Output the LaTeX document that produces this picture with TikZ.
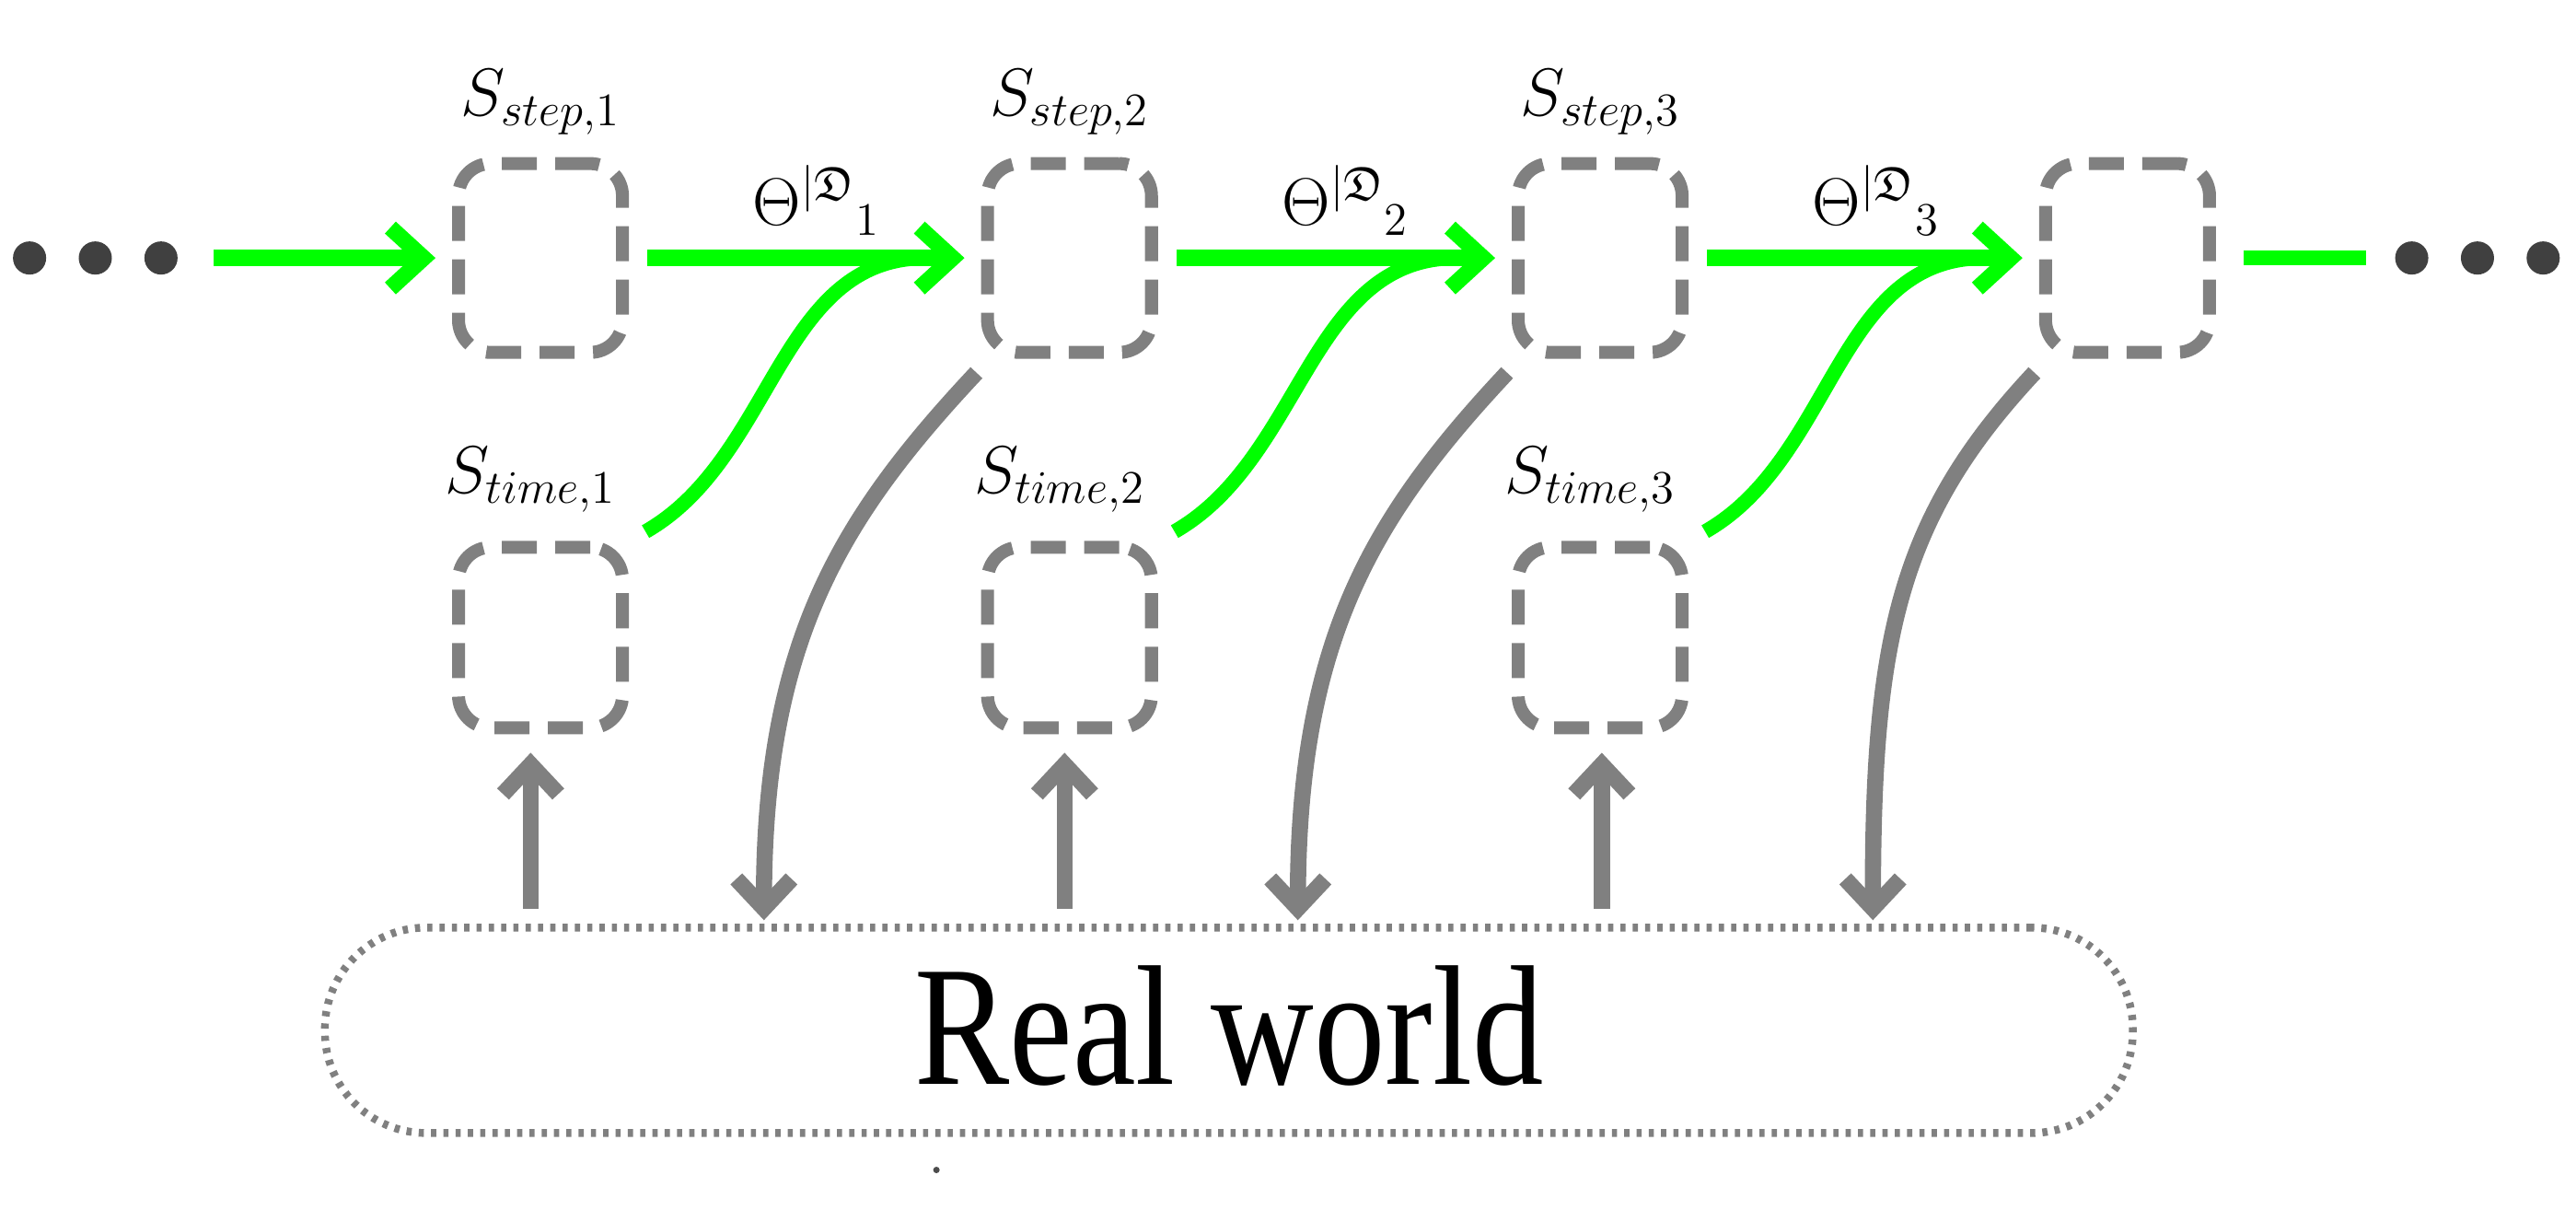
\documentclass[tikz,border=0pt]{standalone}
\usepackage{amssymb}
\usepackage{fontspec}
\newfontfamily\rwfont{Liberation Serif}
\usetikzlibrary{arrows.meta}
\definecolor{grn}{RGB}{0,255,0}
\definecolor{gry}{RGB}{128,128,128}
\begin{document}
\begin{tikzpicture}[x=0.017845cm,y=-0.017845cm,
  box/.style={draw=gry,line width=4pt,rounded corners=0.35cm,dash pattern=on 0.38cm off 0.2cm,minimum width=1.78cm,minimum height=2.05cm,inner sep=0},
  tbox/.style={box,minimum height=1.96cm},
  garr/.style={draw=grn,line width=5pt,-{Straight Barb[length=0.36cm,width=0.66cm,line width=5pt]}},
  gline/.style={draw=grn,line width=4.5pt},
  yarr/.style={draw=gry,line width=5pt,-{Straight Barb[length=0.32cm,width=0.6cm,line width=5pt]}},
  lab/.style={font=\fontsize{22}{24}\selectfont},
  th/.style={font=\fontsize{21}{23}\selectfont},
  dot/.style={circle,fill=black!75,minimum size=0.36cm,inner sep=0}]
\useasboundingbox (0,0) rectangle (1568,736);
% dots
\node[dot] (l1) at (18,157) {};\node[dot] (l2) at (58,157) {};\node[dot] (l3) at (98,157) {};
\node[dot] (r1) at (1468,157) {};\node[dot] (r2) at (1508,157) {};\node[dot] (r3) at (1548,157) {};
% boxes
\node[box] (s1) at (329,157) {};
\node[box] (s2) at (651,157) {};
\node[box] (s3) at (974,157) {};
\node[box] (s4) at (1295,157) {};
\node[tbox] (t1) at (329,388) {};
\node[tbox] (t2) at (651,388) {};
\node[tbox] (t3) at (974,388) {};
% labels
\node[lab] (ls1) at (329,62) {$S_{step,1}$};
\node[lab] (ls2) at (651,62) {$S_{step,2}$};
\node[lab] (ls3) at (974,62) {$S_{step,3}$};
\node[lab] (lt1) at (323,292) {$S_{time,1}$};
\node[lab] (lt2) at (645,292) {$S_{time,2}$};
\node[lab] (lt3) at (968,292) {$S_{time,3}$};
\node[th] (th1) at (497,122) {$\Theta^{|\mathfrak{D}}{}_{1}$};
\node[th] (th2) at (819,122) {$\Theta^{|\mathfrak{D}}{}_{2}$};
\node[th] (th3) at (1142,122) {$\Theta^{|\mathfrak{D}}{}_{3}$};
% real world
\node[draw=gry,line width=2.4pt,dash pattern=on 1.6pt off 2.2pt,rounded corners=1.1cm,minimum width=19.63cm,minimum height=2.23cm,inner sep=0] (rw) at (748,627) {};
\node[font=\rwfont\fontsize{44}{46}\selectfont,yscale=1.2] (rwt) at (748,624) {Real world};
\node[circle,fill=black!70,minimum size=2pt,inner sep=0] (sp) at (570,712) {};
% green chain
\coordinate (g0) at (130,157);
\coordinate (g9) at (1440,157);
\draw[garr] (g0) -- ([xshift=-0.18cm]s1.west);
\draw[garr] ([xshift=0.2cm]s1.east) -- ([xshift=-0.18cm]s2.west);
\draw[garr] ([xshift=0.2cm]s2.east) -- ([xshift=-0.18cm]s3.west);
\draw[garr] ([xshift=0.2cm]s3.east) -- ([xshift=-0.18cm]s4.west);
\draw[gline] ([xshift=0.3cm]s4.east) -- (g9);
\foreach \a/\b in {t1/s2,t2/s3,t3/s4}{
  \draw[gline] ([xshift=0.18cm,yshift=0.1cm]\a.north east) .. controls +(1.4cm,0.8cm) and +(-1.6cm,0) .. ([xshift=-0.6cm]\b.west);
}
% gray arrows
\coordinate (u1) at (323,553);\coordinate (u2) at (648,553);\coordinate (u3) at (975,553);
\coordinate (d1) at (465,560);\coordinate (d2) at (790,560);\coordinate (d3) at (1140,560);
\draw[yarr] (u1) -- ([yshift=-0.2cm]u1 |- t1.south);
\draw[yarr] (u2) -- ([yshift=-0.2cm]u2 |- t2.south);
\draw[yarr] (u3) -- ([yshift=-0.2cm]u3 |- t3.south);
\draw[yarr] ([xshift=-0.05cm,yshift=-0.15cm]s2.south west) .. controls +(-1.5cm,-1.6cm) and +(0,3cm) .. (d1);
\draw[yarr] ([xshift=-0.05cm,yshift=-0.15cm]s3.south west) .. controls +(-1.5cm,-1.6cm) and +(0,3cm) .. (d2);
\draw[yarr] ([xshift=-0.05cm,yshift=-0.15cm]s4.south west) .. controls +(-1.5cm,-1.6cm) and +(0,3cm) .. (d3);
\end{tikzpicture}
\end{document}
